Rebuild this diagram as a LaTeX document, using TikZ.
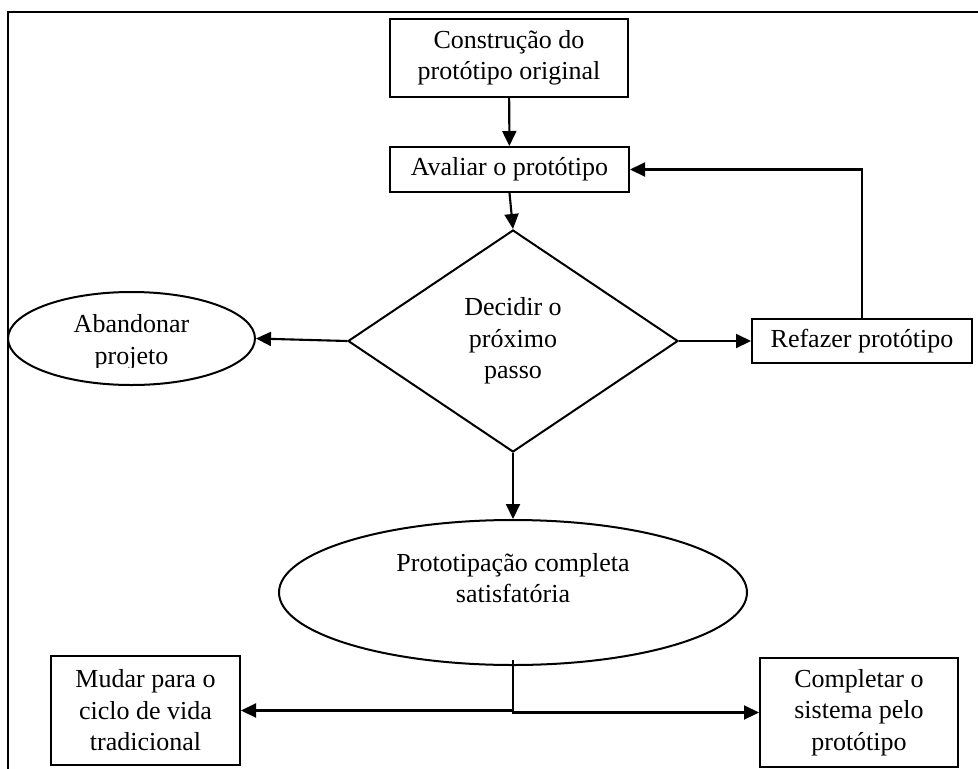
\documentclass[tikz,border=0pt]{standalone}
\usepackage{fontspec}
\setmainfont{Liberation Serif}
\usetikzlibrary{arrows.meta,shapes.geometric}
\begin{document}
\begin{tikzpicture}[x=1pt,y=-1pt,
  every node/.style={font=\fontsize{26}{31.5}\selectfont, text=black},
  boxnode/.style={draw, line width=2pt, rectangle, inner sep=0pt, align=center},
  ovalnode/.style={draw, line width=2pt, ellipse, inner sep=0pt},
  decnode/.style={draw, line width=2pt, diamond, inner sep=0pt, align=center},
  txtnode/.style={inner sep=0pt, align=center},
  conn/.style={line width=2.1pt},
  arr/.style={conn, -{Triangle[length=15pt,width=14pt]}},
  framestyle/.style={line width=2.4pt}]
\useasboundingbox (0,0) rectangle (978,769);
% outer frame (open at right and bottom)
\draw[framestyle] (8,769) -- (8,12) -- (978,12);

\node[boxnode, minimum width=238pt, minimum height=78pt] (build) at (509,58) {Construção do\\protótipo original};
\node[boxnode, minimum width=239pt, minimum height=45pt] (eval) at (509.5,169.5) {Avaliar o protótipo};
\node[decnode, minimum width=330pt, minimum height=222pt] (decide) at (513,341) {Decidir o\\próximo\\passo};
\node[ovalnode, minimum width=247pt, minimum height=93pt] (abandon) at (131.5,338.5) {};
\begin{scope}
  \clip (40,290) rectangle (220,367);
  \node[txtnode] (abandontext) at (131.5,342) {Abandonar\\projeto};
\end{scope}
\node[boxnode, minimum width=220pt, minimum height=44pt] (redo) at (862,341) {Refazer protótipo};
\node[ovalnode, minimum width=468pt, minimum height=145pt] (final) at (513,592.5) {};
\node[txtnode] (finaltext) at (513,578) {Prototipação completa\\satisfatória};
\node[boxnode, minimum width=189pt, minimum height=109pt] (legacy) at (145.5,710.5) {Mudar para o\\ciclo de vida\\tradicional};
\node[boxnode, minimum width=198pt, minimum height=109pt] (complete) at (859,712.5) {Completar o\\sistema pelo\\protótipo};

\draw[arr] (build) -- (eval);
\draw[arr] (eval.south) -- (decide.north);
\draw[arr] (decide.west) -- (abandon.east);
\draw[arr] (decide.east) -- (redo.west);
\draw[arr] (redo.north) |- (eval.east);
\draw[arr] (decide.south) -- (final.north);
\draw[arr] ([yshift=6pt]final.south) |- (legacy.east);
\draw[arr] ([yshift=6pt]final.south) |- (complete.west);
\end{tikzpicture}
\end{document}
